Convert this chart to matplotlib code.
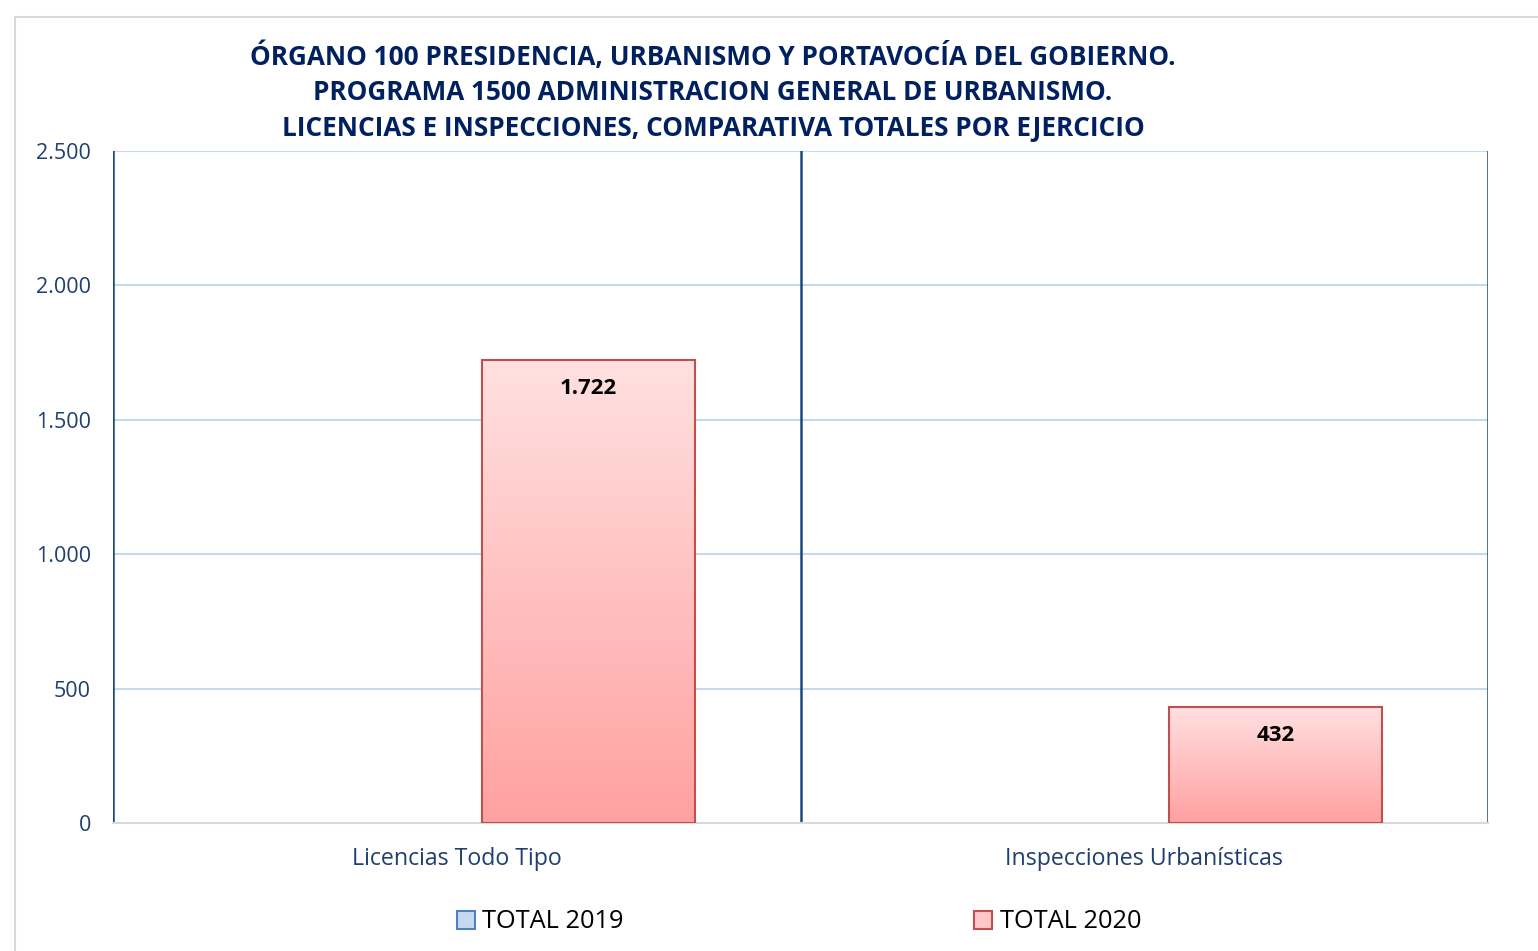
import numpy as np
import matplotlib.pyplot as plt
from matplotlib.patches import Rectangle, Patch
from matplotlib.ticker import FuncFormatter

plt.rcParams['font.family'] = ['Open Sans', 'DejaVu Sans']

categorias = ["Licencias Todo Tipo", "Inspecciones Urbanísticas"]
total_2019 = [0, 0]
total_2020 = [1722, 432]
titulo = ("ÓRGANO 100 PRESIDENCIA, URBANISMO Y PORTAVOCÍA DEL GOBIERNO.\n"
          "PROGRAMA 1500 ADMINISTRACION GENERAL DE URBANISMO.\n"
          "LICENCIAS E INSPECCIONES, COMPARATIVA TOTALES POR EJERCICIO")

navy = "#002060"
tick_color = "#1F3F6E"


def miles(v, pos):
    return f"{int(v):,}".replace(",", ".")


def barra_degradado(ax, bar, top_rgb, bottom_rgb):
    x0, y0 = bar.get_x(), bar.get_y()
    w, h = bar.get_width(), bar.get_height()
    if h <= 0:
        return
    t = np.linspace(0, 1, 256).reshape(-1, 1, 1)
    img = (1 - t) * np.array(top_rgb) + t * np.array(bottom_rgb)
    img = np.repeat(img, 2, axis=1)
    im = ax.imshow(img, extent=[x0, x0 + w, y0, y0 + h], aspect="auto",
                   origin="upper", zorder=2, interpolation="bilinear")
    im.set_clip_path(bar)


fig = plt.figure(figsize=(15.38, 9.51), dpi=100)
ax = fig.add_axes([113 / 1538, 1 - 823 / 951, 1375 / 1538, 672 / 951])

# marco exterior
fig.patches.append(Rectangle((15 / 1538, -0.1), 1.2, 1 - 17 / 951 + 0.1,
                             transform=fig.transFigure, fill=False,
                             edgecolor="#D9D9D9", linewidth=1.5))

x = np.arange(len(categorias))
ancho = 0.31
off = 0.191

b19 = ax.bar(x - off, total_2019, ancho, color="#C6D9F1", edgecolor="#4F81BD", zorder=2)
b20 = ax.bar(x + off, total_2020, ancho, facecolor="none", edgecolor="#C0504D",
             linewidth=1.5, zorder=3)
for bar in b20:
    barra_degradado(ax, bar, (1.0, 0.88, 0.88), (1.0, 0.63, 0.63))

for bar, v in zip(b20, total_2020):
    ax.text(bar.get_x() + bar.get_width() / 2, v - 105, miles(v, None),
            ha="center", va="center", fontsize=16, fontweight="bold",
            color="black", zorder=4)

ax.set_xlim(-0.5, len(categorias) - 0.5)
ax.set_ylim(0, 2500)
ax.set_yticks(np.arange(0, 2501, 500))
ax.yaxis.set_major_formatter(FuncFormatter(miles))
ax.set_xticks(x)
ax.set_xticklabels(categorias)
ax.tick_params(axis="y", length=0, labelsize=15.5, colors=tick_color, pad=16)
ax.tick_params(axis="x", length=0, labelsize=16.7, colors=tick_color, pad=17.5)

ax.grid(axis="y", color="#C5D9F1", linewidth=1.5, zorder=0)
ax.set_axisbelow(True)
for s in ["top", "right", "left"]:
    ax.spines[s].set_visible(False)
ax.spines["bottom"].set_color("#D9D9D9")
ax.spines["bottom"].set_linewidth(1.5)
for xv in [-0.5, 0.5, 1.5]:
    ax.axvline(xv, color="#1F497D", linewidth=1.8, zorder=1)

fig.text(713 / 1538, 1 - 92 / 951, titulo, ha="center", va="center",
         fontsize=18.8, fontweight="bold", color=navy, linespacing=1.4)

handles = [Patch(facecolor="#C6D9F1", edgecolor="#4F81BD", linewidth=1.5, label="TOTAL 2019"),
           Patch(facecolor="#FFC7C7", edgecolor="#C0504D", linewidth=1.5, label="TOTAL 2020")]
fig.legend(handles=handles, loc="center", bbox_to_anchor=(799 / 1538, 1 - 922 / 951),
           ncol=2, frameon=False, fontsize=18.3, handlelength=0.7, handleheight=0.7,
           handletextpad=0.3, columnspacing=13.8)

fig.savefig("out.png", dpi=100)
